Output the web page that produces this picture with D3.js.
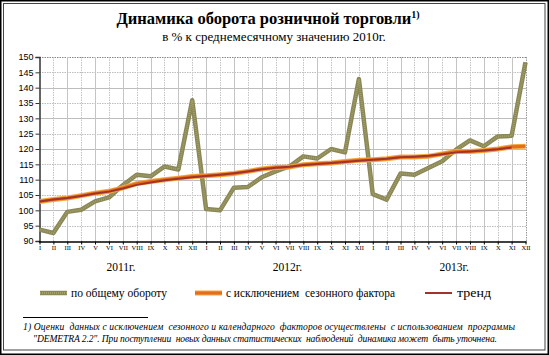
<!DOCTYPE html>
<html><head><meta charset="utf-8">
<script src="https://cdn.jsdelivr.net/npm/d3@7"></script>
<style>
html,body{margin:0;padding:0;background:#fff;}
svg{display:block;}
</style></head>
<body>
<svg id="c" width="549" height="355"></svg>
<script>
const months = ["I","II","III","IV","V","VI","VII","VIII","IX","X","XI","XII"];
const years = ["2011г.","2012г.","2013г."];
const yTicks = [90,95,100,105,110,115,120,125,130,135,140,145,150];
const totalTurnover = [93.7,92.6,99.5,100.2,102.9,104.2,108.2,111.6,111.1,114.3,113.3,135.9,
  100.4,100.0,107.4,107.6,110.8,112.7,114.3,117.6,116.9,120.0,118.9,142.8,
  105.3,103.5,112.0,111.6,113.8,116.0,119.8,122.8,120.9,124.1,124.3,148.3];
const seasonAdj = [102.9,103.5,104.0,104.8,105.6,106.2,107.3,108.7,109.4,110.0,110.5,111.0,
  111.3,111.6,112.0,112.7,113.5,114.0,114.1,114.9,115.2,115.4,115.9,116.3,
  116.5,116.8,117.4,117.4,117.6,118.4,119.2,119.2,119.5,120.0,120.7,120.9];
const trend = [102.9,103.5,104.0,104.7,105.5,106.1,107.1,108.3,109.1,109.8,110.3,110.8,
  111.2,111.6,112.1,112.7,113.4,113.9,114.2,114.8,115.1,115.4,115.8,116.2,
  116.5,116.8,117.3,117.5,117.8,118.3,118.9,119.2,119.5,119.9,120.5,null];
const legendLabels = ["по общему обороту","с исключением  сезонного фактора","тренд"];
const titleText = "Динамика оборота розничной торговли";
const subtitleText = "в % к среднемесячному значению 2010г.";
const footLine1 = "1) Оценки  данных с исключением  сезонного и календарного  факторов осуществлены  с использованием  программы";
const footLine2 = "\"DEMETRA 2.2\". При поступлении  новых данных статистических  наблюдений  динамика может  быть уточнена.";

const svg = d3.select("#c");
const serif = "'Liberation Serif','Times New Roman',serif";
const sans = "'Liberation Sans',Arial,sans-serif";

// frame
svg.append("rect").attr("x",0.75).attr("y",0.75).attr("width",547.5).attr("height",353.5)
  .attr("fill","none").attr("stroke","#000").attr("stroke-width",1.5);
svg.append("rect").attr("x",3.5).attr("y",3.5).attr("width",541.5).attr("height",346.5)
  .attr("fill","none").attr("stroke","#444").attr("stroke-width",1);

const idx = d3.range(36);
const x = d3.scalePoint().domain(idx).range([39.5,525.5]);
const y = d3.scaleLinear().domain([90,150]).range([241,57]);

const g = svg.append("g");
g.selectAll(".hg").data(yTicks.filter(v=>v>90)).join("line")
  .attr("x1",39.5).attr("x2",526.5)
  .attr("y1",d=>Math.round(y(d))+0.5).attr("y2",d=>Math.round(y(d))+0.5)
  .attr("stroke",(d,i)=> d===150 ? "#888" : "#bdbdbd")
  .attr("stroke-dasharray",(d,i)=> (d===150 || i%2===0) ? "1.5,1" : null);
g.selectAll(".vg").data(idx.slice(1)).join("line")
  .attr("x1",d=>Math.round(x(d))+0.5).attr("x2",d=>Math.round(x(d))+0.5)
  .attr("y1",y(150)).attr("y2",y(90))
  .attr("stroke",d=> d===35 ? "#999" : "#c4c4c4")
  .attr("stroke-dasharray",d=> (d===35 || d%2===1) ? "1.5,1" : null);

const yAxis = d3.axisLeft(y).tickValues(yTicks).tickSize(4).tickPadding(2);
const ya = svg.append("g").attr("transform","translate(39.5,0)").call(yAxis);
ya.select(".domain").attr("stroke","#333").attr("stroke-width",1.5);
ya.selectAll(".tick line").attr("stroke","#333");
ya.selectAll("text").attr("font-family",sans).attr("font-size",9).attr("fill","#000");

const xAxis = d3.axisBottom(x).tickFormat(d=>months[d%12]).tickSize(3).tickPadding(1);
const xa = svg.append("g").attr("transform","translate(0,241.5)").call(xAxis);
xa.select(".domain").attr("stroke","#000").attr("stroke-width",1.5).attr("d","M39,0.5H526.5");
xa.selectAll(".tick line").attr("stroke","#000");
xa.selectAll("text").attr("font-family",serif).attr("font-size",6.5).attr("fill","#000");

svg.selectAll(".yr").data(years).join("text")
  .attr("x",(d,i)=> (x(i*12+5)+x(i*12+6))/2 + 5)
  .attr("y",271).attr("text-anchor","middle")
  .attr("font-family",serif).attr("font-size",11.5).text(d=>d);

const line = d3.line().defined(d=>d[1]!=null).x(d=>x(d[0])).y(d=>y(d[1]));
const tData = totalTurnover.map((v,i)=>[i,v]);
const sData = seasonAdj.map((v,i)=>[i,v]);
const trData = trend.map((v,i)=>[i,v]);

svg.append("path").attr("d",line(tData)).attr("fill","none").attr("stroke","#8a8756").attr("stroke-width",4.5).attr("stroke-linejoin","round");
svg.append("path").attr("d",line(tData)).attr("fill","none").attr("stroke","#a3a06a").attr("stroke-width",2).attr("stroke-dasharray","1,1");
svg.append("path").attr("d",line(sData)).attr("fill","none").attr("stroke","#f4a640").attr("stroke-width",5);
svg.append("path").attr("d",line(sData)).attr("fill","none").attr("stroke","#e56d1c").attr("stroke-width",3);
svg.append("path").attr("d",line(trData)).attr("fill","none").attr("stroke","#a0332b").attr("stroke-width",2);

const tt = svg.append("text").attr("x",268).attr("y",24).attr("text-anchor","middle")
  .attr("font-family",serif).attr("font-weight","bold").attr("font-size",16.5);
tt.append("tspan").text(titleText);
tt.append("tspan").attr("font-size",10).attr("dy",-6).text("1)");
svg.append("text").attr("x",274).attr("y",41).attr("text-anchor","middle")
  .attr("font-family",serif).attr("font-size",13).text(subtitleText);

const lg = [
  {x:40, tx:71, draw:(s,x0,x1,yy)=>{s.append("line").attr("x1",x0).attr("x2",x1).attr("y1",yy).attr("y2",yy).attr("stroke","#8a8756").attr("stroke-width",4.5);
     s.append("line").attr("x1",x0).attr("x2",x1).attr("y1",yy).attr("y2",yy).attr("stroke","#a3a06a").attr("stroke-width",2).attr("stroke-dasharray","1,1");}},
  {x:195, tx:226, draw:(s,x0,x1,yy)=>{s.append("line").attr("x1",x0).attr("x2",x1).attr("y1",yy).attr("y2",yy).attr("stroke","#f4a640").attr("stroke-width",5);
     s.append("line").attr("x1",x0).attr("x2",x1).attr("y1",yy).attr("y2",yy).attr("stroke","#e56d1c").attr("stroke-width",3);}},
  {x:425, tx:457, draw:(s,x0,x1,yy)=>{s.append("line").attr("x1",x0).attr("x2",x1).attr("y1",yy).attr("y2",yy).attr("stroke","#a0332b").attr("stroke-width",2);}}
];
const legendLen = [96,169,34];
lg.forEach((l,i)=>{
  l.draw(svg,l.x,l.x+27,293);
  svg.append("text").attr("x",l.tx).attr("y",297).attr("font-family",serif).attr("font-size",12)
    .style("white-space","pre").attr("textLength",legendLen[i]).attr("lengthAdjust","spacingAndGlyphs").text(legendLabels[i]);
});

svg.append("line").attr("x1",23).attr("x2",148).attr("y1",317.5).attr("y2",317.5).attr("stroke","#000").attr("stroke-width",1);
svg.append("text").attr("x",23).attr("y",330).attr("font-family",serif).attr("font-style","italic").attr("font-size",9.6)
  .style("white-space","pre").attr("textLength",492).attr("lengthAdjust","spacing").text(footLine1);
svg.append("text").attr("x",33).attr("y",342).attr("font-family",serif).attr("font-style","italic").attr("font-size",9.6)
  .style("white-space","pre").attr("textLength",464).attr("lengthAdjust","spacing").text(footLine2);
</script>
</body></html>
